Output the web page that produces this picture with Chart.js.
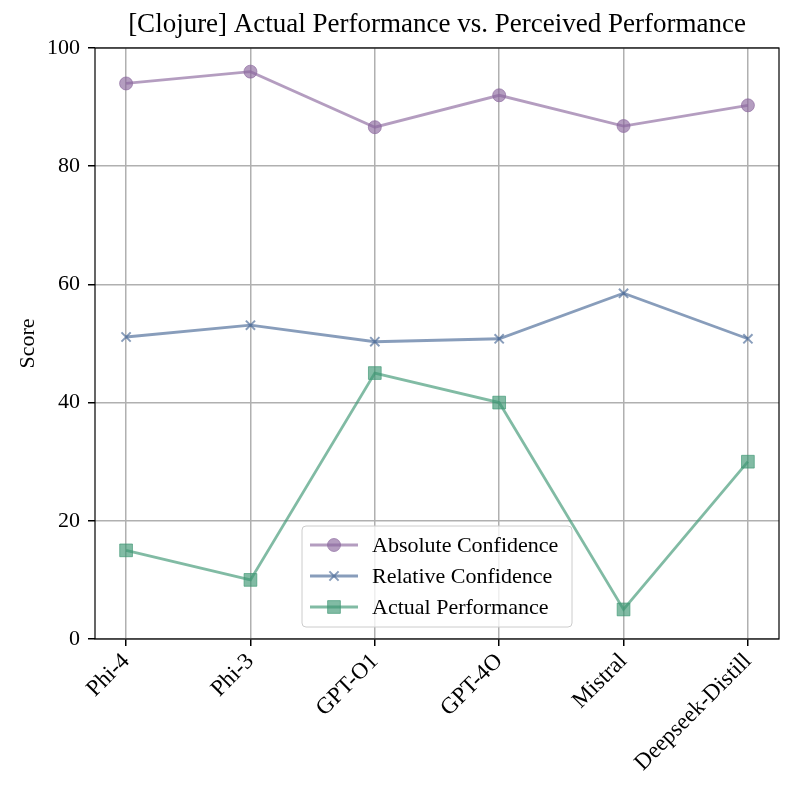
<!DOCTYPE html>
<html>
<head>
<meta charset="utf-8">
<script src="https://cdn.jsdelivr.net/npm/chart.js@4.4.1/dist/chart.umd.min.js"></script>
<style>
  html, body { margin: 0; padding: 0; background: #fff; }
  canvas { display: block; }
</style>
</head>
<body>
<canvas id="lineChart" width="793" height="793"></canvas>
<script>
"use strict";

var models = ["Phi-4", "Phi-3", "GPT-O1", "GPT-4O", "Mistral", "Deepseek-Distill"];
var absoluteConfidence = [94.0, 96.0, 86.6, 92.0, 86.8, 90.3];
var relativeConfidence = [51.1, 53.1, 50.3, 50.8, 58.5, 50.8];
var actualPerformance = [15, 10, 45, 40, 5, 30];
var yTicks = [0, 20, 40, 60, 80, 100];

var serif = "'Liberation Serif', 'Times New Roman', serif";

function points(values) {
    return values.map(function (v, i) { return { x: i, y: v }; });
}

// legend box drawn inside the plot, matplotlib style
var innerLegend = {
    id: "innerLegend",
    afterDraw: function (chart) {
        var ctx = chart.ctx;
        var x0 = 302, y0 = 526, w = 270, h = 101;
        ctx.save();
        ctx.fillStyle = "rgba(255,255,255,0.8)";
        ctx.strokeStyle = "#cccccc";
        ctx.lineWidth = 1;
        ctx.beginPath();
        ctx.roundRect(x0, y0, w, h, 4);
        ctx.fill();
        ctx.stroke();
        ctx.textBaseline = "middle";
        chart.data.datasets.forEach(function (ds, i) {
            var y = y0 + 19 + i * 31;
            ctx.strokeStyle = ds.borderColor;
            ctx.lineWidth = ds.borderWidth;
            ctx.beginPath();
            ctx.moveTo(x0 + 8, y);
            ctx.lineTo(x0 + 56, y);
            ctx.stroke();
            ctx.fillStyle = ds.backgroundColor;
            ctx.lineWidth = ds.pointBorderWidth;
            Chart.helpers.drawPoint(ctx, {
                pointStyle: ds.pointStyle,
                radius: ds.pointRadius,
                borderWidth: ds.pointBorderWidth
            }, x0 + 32, y);
            ctx.fillStyle = "#000";
            ctx.font = "22px " + serif;
            ctx.fillText(ds.label, x0 + 70, y + 1);
        });
        ctx.restore();
    }
};

// frame around the plot and the title
var frame = {
    id: "frame",
    afterDraw: function (chart) {
        var a = chart.chartArea, ctx = chart.ctx;
        ctx.save();
        ctx.strokeStyle = "#000";
        ctx.lineWidth = 1.2;
        ctx.strokeRect(a.left, a.top, a.right - a.left, a.bottom - a.top);
        ctx.fillStyle = "#000";
        ctx.font = "27px " + serif;
        ctx.textAlign = "center";
        ctx.textBaseline = "middle";
        ctx.fillText("[Clojure] Actual Performance vs. Perceived Performance", (a.left + a.right) / 2, 25);
        ctx.restore();
    }
};

function series(label, values, color, style, radius) {
    return {
        label: label,
        data: points(values),
        borderColor: color,
        backgroundColor: color,
        borderWidth: 2.8,
        pointStyle: style,
        pointRadius: radius,
        pointHoverRadius: radius,
        pointBorderWidth: style === "crossRot" ? 2 : 1,
        tension: 0
    };
}

var chart = new Chart(document.getElementById("lineChart"), {
    type: "line",
    data: {
        datasets: [
            series("Absolute Confidence", absoluteConfidence, "rgba(140,104,158,0.65)", "circle", 6.5),
            series("Relative Confidence", relativeConfidence, "rgba(72,104,150,0.65)", "crossRot", 6.5),
            series("Actual Performance", actualPerformance, "rgba(62,150,115,0.65)", "rect", 9)
        ]
    },
    options: {
        responsive: false,
        animation: false,
        devicePixelRatio: 1,
        layout: { padding: { top: 48, left: 0, right: 14, bottom: 0 } },
        plugins: {
            legend: { display: false },
            title: { display: false },
            tooltip: { enabled: false }
        },
        scales: {
            x: {
                type: "linear",
                min: -0.25,
                max: 5.25,
                afterFit: function (s) { s.height = 154; },
                afterBuildTicks: function (s) {
                    s.ticks = models.map(function (m, i) { return { value: i }; });
                },
                ticks: {
                    autoSkip: false,
                    minRotation: 45,
                    maxRotation: 45,
                    color: "#000",
                    padding: 2,
                    font: { family: serif, size: 23 },
                    callback: function (v) { return models[v]; }
                },
                grid: { color: "#b0b0b0", lineWidth: 1.5, tickColor: "#000", tickLength: 7 },
                border: { display: false }
            },
            y: {
                min: 0,
                max: 100,
                afterFit: function (s) { s.width = 95; },
                afterBuildTicks: function (s) {
                    s.ticks = yTicks.map(function (v) { return { value: v }; });
                },
                ticks: {
                    color: "#000",
                    padding: 8,
                    font: { family: serif, size: 22 }
                },
                title: {
                    display: true,
                    text: "Score",
                    color: "#000",
                    padding: { top: 15, bottom: 0 },
                    font: { family: serif, size: 22 }
                },
                grid: { color: "#b0b0b0", lineWidth: 1.5, tickColor: "#000", tickLength: 7 },
                border: { display: false }
            }
        }
    },
    plugins: [frame, innerLegend]
});
</script>
</body>
</html>
